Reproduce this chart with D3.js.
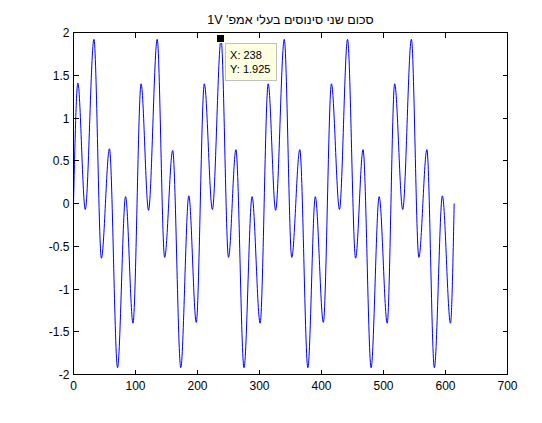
<!DOCTYPE html>
<html>
<head>
<meta charset="utf-8">
<script src="https://cdn.jsdelivr.net/npm/d3@7"></script>
<style>
  body { margin: 0; background: #fff; }
  text { font-family: "Liberation Sans", Arial, sans-serif; fill: #000; }
</style>
</head>
<body>
<script>
// turning points of the trace (x = sample index, y = volts)
const sampleX = [0,
  7, 19, 33, 45, 58, 71, 84, 96,
  109, 121, 135, 147, 160, 173, 186, 198,
  211, 224, 238, 250, 262, 275, 288, 301,
  314, 326, 340, 352, 365, 378, 390, 403,
  416, 429, 442, 455, 467, 480, 493, 506,
  518, 531, 545, 557, 570, 582, 595, 608,
  614];
const sampleY = [0,
  1.41, -0.07, 1.92, -0.64, 0.64, -1.92, 0.08, -1.40,
  1.40, -0.08, 1.92, -0.63, 0.62, -1.92, 0.09, -1.39,
  1.40, -0.07, 1.925, -0.63, 0.63, -1.92, 0.08, -1.40,
  1.40, -0.08, 1.92, -0.63, 0.63, -1.92, 0.08, -1.39,
  1.40, -0.07, 1.92, -0.64, 0.63, -1.92, 0.08, -1.40,
  1.40, -0.07, 1.92, -0.63, 0.63, -1.92, 0.09, -1.40,
  0.0];
const xTicks = [0, 100, 200, 300, 400, 500, 600, 700];
const yTicks = [-2, -1.5, -1, -0.5, 0, 0.5, 1, 1.5, 2];
const titleText = "סכום שני סינוסים בעלי אמפ' 1V";
const tip = {x: 238, y: 1.925};

const W = 542, H = 423;
const svg = d3.select("body").append("svg").attr("width", W).attr("height", H);
svg.append("rect").attr("width", W).attr("height", H).attr("fill", "#fff");

const x = d3.scaleLinear().domain([0, 700]).range([73.5, 507.5]);
const y = d3.scaleLinear().domain([-2, 2]).range([374.5, 32.5]);

const pts = sampleX.map((d, i) => [d, sampleY[i]]);

// trace
svg.append("path")
  .datum(pts)
  .attr("fill", "none")
  .attr("stroke", "#0000ff")
  .attr("stroke-width", 1)
  .attr("d", d3.line().x(d => x(d[0])).y(d => y(d[1])).curve(d3.curveMonotoneX));

// axes box with inward ticks on all four sides
const tk = 5;
const ax = svg.append("g").attr("stroke", "#000").attr("shape-rendering", "crispEdges");
ax.append("rect")
  .attr("x", x(0)).attr("y", y(2))
  .attr("width", x(700) - x(0)).attr("height", y(-2) - y(2))
  .attr("fill", "none");

ax.selectAll(".xt").data(xTicks).enter().append("path")
  .attr("d", d => `M${x(d)},${y(-2)}v${-tk}M${x(d)},${y(2)}v${tk}`);
ax.selectAll(".yt").data(yTicks).enter().append("path")
  .attr("d", d => `M${x(0)},${y(d)}h${tk}M${x(700)},${y(d)}h${-tk}`);

svg.selectAll(".xl").data(xTicks).enter().append("text")
  .attr("x", d => x(d)).attr("y", y(-2) + 15)
  .attr("text-anchor", "middle").attr("font-size", 12)
  .text(d => d);
svg.selectAll(".yl").data(yTicks).enter().append("text")
  .attr("x", x(0) - 4).attr("y", d => y(d) + 4.5)
  .attr("text-anchor", "end").attr("font-size", 12)
  .text(d => d);

svg.append("text")
  .attr("x", (x(0) + x(700)) / 2).attr("y", 24)
  .attr("text-anchor", "middle").attr("direction", "rtl")
  .attr("font-size", 12.5)
  .text(titleText);

// data tip
const tx = x(tip.x), ty = y(tip.y);
svg.append("rect")
  .attr("x", tx + 4).attr("y", ty + 4.5)
  .attr("width", 51).attr("height", 37)
  .attr("fill", "#ffffe1").attr("stroke", "#c0c0c0")
  .attr("shape-rendering", "crispEdges");
svg.append("text").attr("x", tx + 9).attr("y", ty + 20)
  .attr("font-size", 11).text("X: " + tip.x);
svg.append("text").attr("x", tx + 9).attr("y", ty + 34)
  .attr("font-size", 11).text("Y: " + tip.y);
svg.append("rect")
  .attr("x", tx - 4.5).attr("y", ty - 4.5)
  .attr("width", 8).attr("height", 8)
  .attr("fill", "#000").attr("stroke", "#ffffe1")
  .attr("shape-rendering", "crispEdges");
</script>
</body>
</html>
